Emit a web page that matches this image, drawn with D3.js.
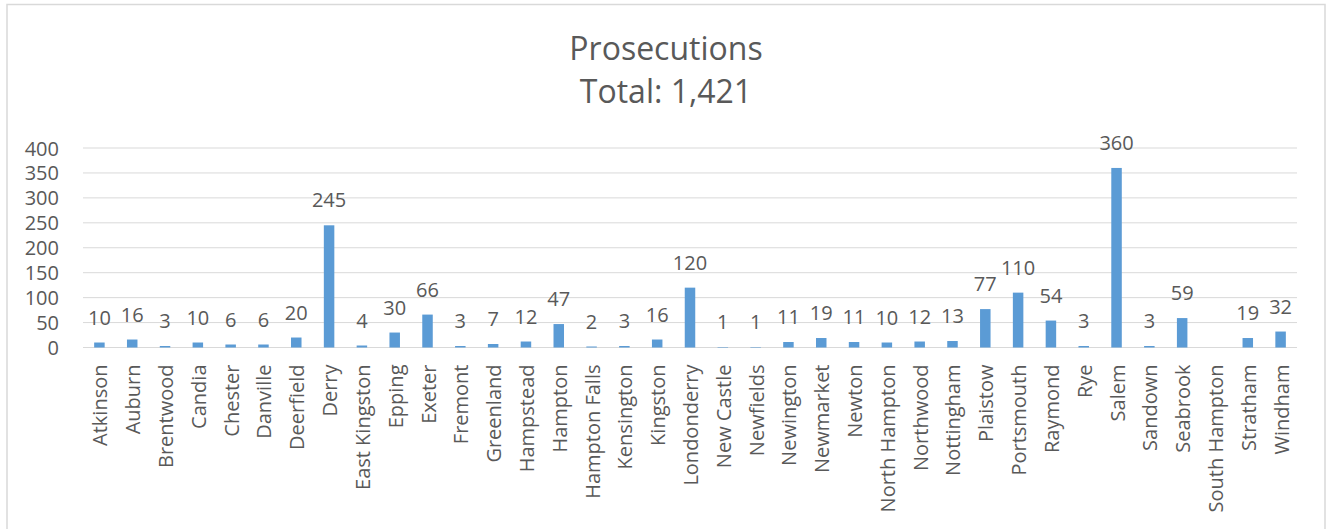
<!DOCTYPE html>
<html>
<head>
<meta charset="utf-8">
<script src="https://cdn.jsdelivr.net/npm/d3@7"></script>
<style>
  html, body { margin: 0; padding: 0; background: #fff; }
  svg { display: block; }
</style>
</head>
<body>
<svg id="chart" width="1331" height="529"></svg>
<script>
const categories = ["Atkinson","Auburn","Brentwood","Candia","Chester","Danville","Deerfield","Derry","East Kingston","Epping","Exeter","Fremont","Greenland","Hampstead","Hampton","Hampton Falls","Kensington","Kingston","Londonderry","New Castle","Newfields","Newington","Newmarket","Newton","North Hampton","Northwood","Nottingham","Plaistow","Portsmouth","Raymond","Rye","Salem","Sandown","Seabrook","South Hampton","Stratham","Windham"];
const values = [10,16,3,10,6,6,20,245,4,30,66,3,7,12,47,2,3,16,120,1,1,11,19,11,10,12,13,77,110,54,3,360,3,59,null,19,32];
const yTicks = [0,50,100,150,200,250,300,350,400];
const titleLines = ["Prosecutions","Total: 1,421"];

const svg = d3.select("#chart");
const font = "'Open Sans', sans-serif";
const textColor = "#595959";

// chart border
svg.append("rect").attr("x",7).attr("y",4.5).attr("width",1318).attr("height",540)
  .attr("fill","none").attr("stroke","#d9d9d9").attr("stroke-width",1.5);

const plot = {left: 83, right: 1297, top: 148, bottom: 347.5};
const x = d3.scaleBand().domain(categories).range([plot.left, plot.right]).paddingInner(0.68).paddingOuter(0.34);
const y = d3.scaleLinear().domain([0,400]).range([plot.bottom, plot.top]);

// gridlines
svg.append("g").selectAll("line").data(yTicks).join("line")
  .attr("x1", plot.left).attr("x2", plot.right)
  .attr("y1", d => y(d)).attr("y2", d => y(d))
  .attr("stroke", "#d9d9d9").attr("stroke-width", 1);

// y axis labels
const yAxis = d3.axisLeft(y).tickValues(yTicks).tickSize(0).tickPadding(0);
const gy = svg.append("g").attr("transform", `translate(59,0)`).call(yAxis);
gy.select(".domain").remove();
gy.selectAll("text").attr("font-family", font).attr("font-size", 20).attr("fill", textColor).attr("dy","0.35em");

// bars
const data = categories.map((c,i) => ({c, v: values[i]}));
svg.append("g").selectAll("rect").data(data.filter(d => d.v != null)).join("rect")
  .attr("x", d => x(d.c)).attr("width", x.bandwidth())
  .attr("y", d => y(d.v)).attr("height", d => y(0) - y(d.v))
  .attr("fill", "#5b9bd5");

// data labels
svg.append("g").selectAll("text").data(data.filter(d => d.v != null)).join("text")
  .attr("x", d => x(d.c) + x.bandwidth()/2)
  .attr("y", d => y(d.v) - 18)
  .attr("text-anchor","middle")
  .attr("font-family", font).attr("font-size", 20).attr("fill", textColor)
  .text(d => d.v);

// x axis labels
const xAxis = d3.axisBottom(x).tickSize(0).tickPadding(0);
const gx = svg.append("g").attr("transform", `translate(0,${plot.bottom})`).call(xAxis);
gx.select(".domain").remove();
gx.selectAll("text")
  .attr("font-family", font).attr("font-size", 20).attr("fill", textColor)
  .attr("text-anchor","end")
  .attr("transform", "rotate(-90)")
  .attr("x", -17).attr("y", 1).attr("dy", "0.35em");

// title
svg.append("g").selectAll("text").data(titleLines).join("text")
  .attr("x", 666).attr("y", (d,i) => 60 + i*43)
  .attr("text-anchor","middle")
  .attr("font-family", font).attr("font-size", 32).attr("fill", textColor)
  .text(d => d);
</script>
</body>
</html>
